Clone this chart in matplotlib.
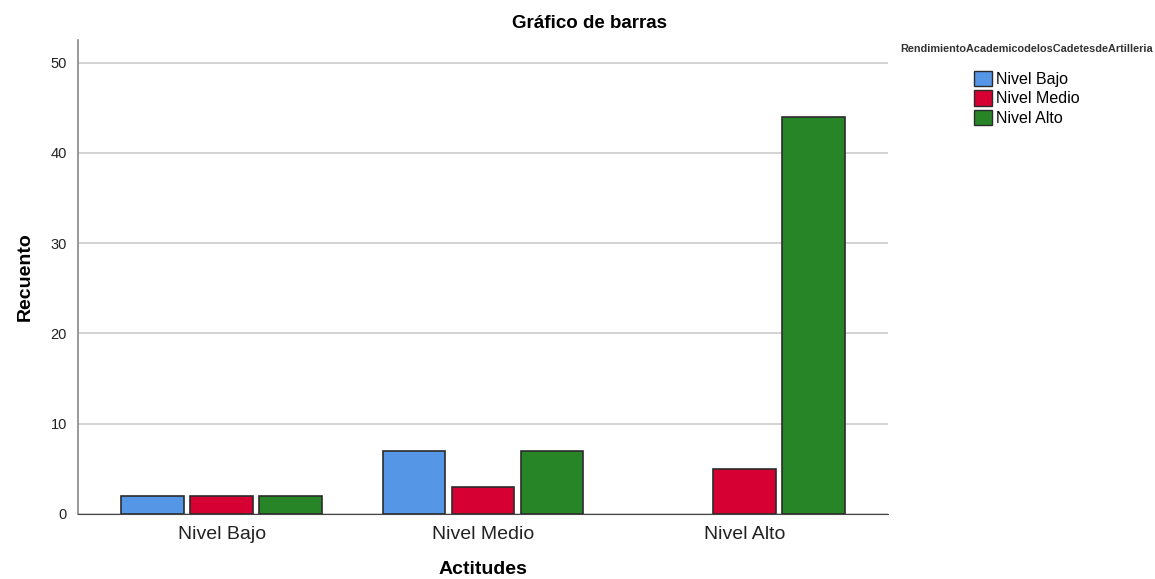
import numpy as np
import matplotlib.pyplot as plt
from matplotlib.patches import Patch

plt.rcParams['font.family'] = ['Liberation Sans', 'DejaVu Sans']

categories = ['Nivel Bajo', 'Nivel Medio', 'Nivel Alto']
series = ['Nivel Bajo', 'Nivel Medio', 'Nivel Alto']
bajo = [2, 7, 0]
medio = [2, 3, 5]
alto = [2, 7, 44]
colors = ['#5596e6', '#d60032', '#278527']

fig = plt.figure(figsize=(11.55, 5.79), dpi=100)
ax = fig.add_axes([0.0675, 0.1123, 0.7015, 0.8187])

x = np.arange(len(categories))
w = 0.24
step = 0.264
for i, (vals, c) in enumerate(zip([bajo, medio, alto], colors)):
    bars = ax.bar(x + (i - 1) * step, vals, width=w, color=c, edgecolor='#2b2b2b', linewidth=1.2, zorder=3)
    # empty bars are not drawn at all
    for b, v in zip(bars, vals):
        if v == 0:
            b.set_visible(False)

ax.set_xlim(-0.55, 2.55)
ax.set_ylim(0, 52.5)
ax.set_yticks([0, 10, 20, 30, 40, 50])
ax.set_xticks(x)
ax.set_xticklabels(categories, fontsize=14, color='#222222')
ax.tick_params(axis='y', labelsize=10.5, length=0, pad=8, labelcolor='#222222')
ax.tick_params(axis='x', length=0, pad=9)
ax.grid(axis='y', color='#cccccc', linewidth=1.2, zorder=0)
for s in ['top', 'right']:
    ax.spines[s].set_visible(False)
ax.spines['left'].set_color('#888888')
ax.spines['bottom'].set_color('#444444')
ax.spines['left'].set_linewidth(1.2)

ax.set_ylabel('Recuento', fontsize=14, fontweight='bold', labelpad=12)
fig.text(483 / 1155, 1 - 569 / 579, 'Actitudes', ha='center', va='center',
         fontsize=14, fontweight='bold')
fig.text(589 / 1155, 1 - 24 / 579, 'Gráfico de barras', ha='center', va='center',
         fontsize=13.5, fontweight='bold')

fig.text(1027 / 1155, 1 - 49 / 579, 'RendimientoAcademicodelosCadetesdeArtilleria',
         ha='center', va='center', fontsize=7.8, fontweight='bold', color='#333333')
handles = [Patch(facecolor=c, edgecolor='#2b2b2b', label=s) for s, c in zip(series, colors)]
fig.legend(handles=handles, loc='upper left', bbox_to_anchor=(966 / 1155, 1 - 63 / 579),
           frameon=False, fontsize=11.5, handlelength=1.1, handleheight=1.1,
           handletextpad=0.3, labelspacing=0.2, borderpad=0)

fig.savefig('out.png', dpi=100)
